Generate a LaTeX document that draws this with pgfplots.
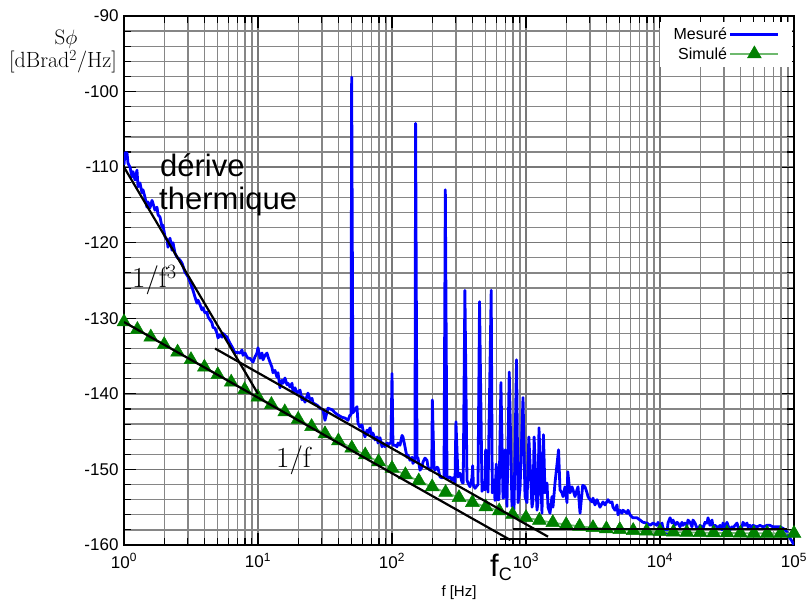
\documentclass[border=0pt]{standalone}
\usepackage{fontspec}
\usepackage{pgfplots}
\pgfplotsset{compat=1.18}
\newfontfamily\arial{Liberation Sans}
\definecolor{simline}{RGB}{110,185,110}
\definecolor{simmark}{RGB}{0,128,0}
\definecolor{gridc}{RGB}{120,120,120}
\newcommand{\legfont}{\arial\fontsize{16}{18}\selectfont}

\begin{document}
\begin{tikzpicture}[x=1pt,y=1pt]
\useasboundingbox (-124,-64) rectangle (685,545);
\begin{axis}[
  at={(0,0)}, anchor=south west,
  width=670pt, height=529pt, scale only axis,
  xmode=log, xmin=1, xmax=1e5,
  ymin=-160, ymax=-90,
  xtick={1,10,100,1000,10000,100000},
  xticklabels={10\textsuperscript{0},10\textsuperscript{1},10\textsuperscript{2},10\textsuperscript{3},10\textsuperscript{4},10\textsuperscript{5}},
  ytick={-160,-150,-140,-130,-120,-110,-100,-90},
  yticklabels={-160,-150,-140,-130,-120,-110,-100,-90},
  minor y tick num=4,
  tick align=inside,
  major tick length=12pt, minor tick length=7pt,
  tick style={black, line width=1.1pt},
  grid=both,
  major grid style={gridc, line width=1.3pt},
  minor grid style={gridc!90, line width=1.3pt},
  axis line style={black, line width=1.6pt},
  ticklabel style={font=\arial\fontsize{17}{17}\selectfont},
  xticklabel style={yshift=-5pt},
  yticklabel style={xshift=-2pt},
  xlabel={f [Hz]},
  xlabel style={font=\arial\fontsize{15}{15}\selectfont, yshift=-10pt},
  clip mode=individual,
  legend style={draw=none, fill=white, at={(0.997,0.989)}, anchor=north east,
    font=\legfont, row sep=2pt, inner xsep=12pt, inner ysep=4pt},
  legend cell align=right, legend plot pos=right,
  legend image code/.code={\draw[mark repeat=2,mark phase=2,#1] plot coordinates {(0pt,0pt) (24pt,0pt) (48pt,0pt)};},
]
\addplot[blue, line width=2.8pt, line join=round, no markers] coordinates {
(1,-109.7) (1.017,-108.1) (1.053,-108.1) (1.071,-109.5) (1.109,-110.0) (1.147,-111.3) (1.167,-110.6) (1.208,-111.7) (1.25,-110.4) (1.272,-112.6) (1.316,-112.1) (1.362,-113.4) (1.386,-113.0) (1.435,-114.0) (1.484,-115.3) (1.51,-114.6) (1.563,-115.4) (1.618,-114.4) (1.646,-114.8) (1.703,-115.7) (1.763,-115.3) (1.794,-116.3) (1.856,-116.6) (1.921,-117.9) (1.954,-117.7) (2.023,-119.2) (2.094,-119.6) (2.13,-120.6) (2.204,-119.4) (2.282,-121.0) (2.321,-120.0) (2.402,-121.4) (2.486,-121.9) (2.618,-122.3) (2.709,-122.7) (2.853,-123.9) (3.004,-124.5) (3.109,-125.2) (3.217,-125.9) (3.273,-126.3) (3.388,-127.2) (3.506,-128.0) (3.567,-127.6) (3.691,-128.2) (3.82,-128.9) (3.886,-128.6) (4.022,-129.3) (4.162,-129.2) (4.235,-129.8) (4.383,-130.2) (4.536,-130.6) (4.615,-131.2) (4.776,-131.3) (4.943,-132.0) (5.029,-132.6) (5.204,-132.2) (5.386,-132.5) (5.48,-132.0) (5.871,-132.5) (6.181,-133.3) (6.508,-134.0) (6.736,-134.6) (6.971,-134.5) (7.34,-134.6) (7.596,-134.2) (7.728,-134.9) (7.998,-134.6) (8.278,-135.1) (8.421,-135.3) (8.716,-135.3) (9.177,-135.8) (9.497,-135.1) (9.83,-134.6) (10,-133.9) (10.35,-135.3) (10.71,-134.6) (10.9,-135.5) (11.28,-134.9) (11.67,-134.6) (11.88,-135.1) (12.29,-135.8) (12.72,-136.5) (12.94,-137.2) (13.39,-136.9) (13.86,-137.8) (14.1,-137.2) (14.59,-139.2) (15.1,-138.2) (15.37,-138.6) (15.9,-137.9) (16.46,-138.8) (16.75,-138.6) (17.33,-139.1) (17.94,-138.6) (18.25,-139.8) (18.89,-139.2) (19.54,-139.9) (20.58,-139.5) (21.3,-140.8) (21.67,-140.4) (22.43,-141.1) (23.61,-139.9) (24.44,-140.8) (25.29,-140.6) (25.73,-141.2) (27.56,-141.5) (29.02,-141.9) (30.55,-142.1) (31.62,-143.5) (32.73,-142.4) (33.3,-141.9) (35.67,-142.1) (37.56,-142.5) (39.55,-142.8) (42.36,-143.1) (44.59,-143.2) (46.95,-143.5) (48.59,-142.8) (49.43,-142.8) (50,-98.1) (51.15,-142.5) (52.94,-142.1) (54.8,-141.7) (55.75,-143.9) (57.7,-144.4) (59.72,-144.1) (60.76,-144.8) (62.88,-145.7) (65.08,-144.8) (66.21,-145.2) (68.53,-144.5) (70.93,-145.7) (72.15,-145.2) (74.67,-146.1) (77.29,-145.7) (78.63,-146.5) (81.38,-145.8) (84.23,-147.0) (85.69,-146.5) (88.69,-147.0) (91.77,-146.5) (93.38,-146.8) (96.62,-146.5) (98.3,-146.5) (100,-137.3) (101.7,-146.8) (105.3,-146.8) (109,-147.0) (110.9,-146.5) (114.7,-146.8) (118.8,-145.5) (120.8,-145.7) (125,-147.0) (129.4,-148.4) (131.6,-148.1) (136.2,-148.8) (141,-148.4) (143.4,-149.2) (148.4,-148.8) (150,-104.2) (153.7,-148.4) (156.3,-148.5) (161.8,-150.1) (167.4,-149.7) (170.4,-149.0) (176.3,-148.5) (182.5,-148.8) (185.7,-149.7) (192.1,-150.1) (198,-149.7) (200,-140.8) (205.8,-149.7) (209.4,-150.1) (216.7,-149.7) (220.4,-149.8) (228.2,-151.0) (236.1,-151.1) (244.4,-151.0) (250,-113.0) (257.3,-151.0) (261.8,-151.1) (271,-151.0) (280.4,-151.4) (285.3,-151.1) (295.3,-151.7) (300,-143.7) (310.9,-151.0) (321.8,-150.5) (333,-151.7) (340,-151.8) (350,-126.3) (362.8,-151.4) (369.1,-151.8) (382.1,-152.3) (395.4,-151.1) (400,-149.5) (405,-152.1) (416.4,-152.5) (438.3,-152.0) (450,-127.8) (469.6,-152.9) (477.6,-152.3) (494.4,-152.7) (500,-147.4) (520.4,-153.0) (550,-126.3) (560,-153.1) (577,-151.4) (587,-154.1) (600,-149.3) (612,-154.0) (629,-154.0) (650,-138.5) (673.6,-153.8) (690,-153.6) (700,-147.4) (721,-154.9) (750,-137.1) (786,-154.9) (800,-151.0) (814,-155.3) (850,-135.5) (872,-154.4) (902,-152.7) (950,-140.5) (983,-153.6) (1017,-154.4) (1050,-145.7) (1109,-155.0) (1128,-154.1) (1150,-145.7) (1208,-155.4) (1229,-154.4) (1250,-144.5) (1316,-155.8) (1350,-145.4) (1386,-153.1) (1435,-151.8) (1460,-155.0) (1510,-155.8) (1563,-153.6) (1590,-155.0) (1646,-151.8) (1750,-147.4) (1794,-152.7) (1856,-153.1) (1889,-153.6) (1954,-152.3) (2023,-154.4) (2050,-150.3) (2130,-153.1) (2204,-152.3) (2243,-152.7) (2321,-153.6) (2402,-152.7) (2445,-152.3) (2530,-155.8) (2618,-153.1) (2650,-152.1) (2756,-152.3) (2853,-153.1) (2903,-153.6) (3004,-154.0) (3109,-154.3) (3162,-153.8) (3273,-154.7) (3388,-154.0) (3567,-155.0) (3755,-154.3) (3886,-154.7) (4092,-154.0) (4235,-154.4) (4383,-154.3) (4459,-155.0) (4615,-155.4) (4776,-154.7) (4859,-156.0) (5029,-155.4) (5204,-155.8) (5295,-155.4) (5673,-155.8) (5772,-155.4) (5973,-156.0) (6181,-156.3) (6288,-156.4) (6736,-156.4) (7092,-156.7) (7468,-157.0) (7998,-157.1) (8421,-157.4) (8867,-157.1) (9497,-157.4) (9662,-157.0) (10000,-157.6) (10350,-157.1) (10530,-157.8) (10900,-158.0) (11280,-158.4) (11470,-157.1) (11880,-156.4) (12290,-157.1) (12510,-156.7) (12940,-157.4) (13390,-157.0) (13620,-157.1) (14100,-157.6) (14590,-157.0) (14840,-157.4) (15370,-157.1) (15900,-157.4) (16180,-156.7) (16750,-157.0) (17330,-157.6) (17630,-156.7) (18250,-157.1) (18890,-157.8) (19210,-158.0) (19890,-157.4) (20580,-157.6) (20940,-157.8) (21670,-157.0) (22430,-157.1) (22820,-156.4) (23610,-157.4) (24440,-156.7) (24870,-157.6) (25730,-157.4) (26630,-157.6) (27090,-157.8) (28040,-157.4) (29020,-158.0) (29520,-157.1) (30550,-157.6) (31620,-157.0) (32170,-157.4) (33300,-158.0) (34460,-157.6) (35060,-157.8) (36280,-157.4) (37560,-157.1) (38210,-157.6) (39550,-157.8) (40920,-157.6) (41640,-157.0) (43090,-157.4) (44590,-157.1) (45370,-157.6) (46950,-157.4) (48590,-157.8) (49430,-157.4) (52940,-157.6) (55750,-157.4) (58710,-157.6) (62880,-157.4) (66210,-157.4) (69710,-157.6) (74670,-157.6) (78630,-157.6) (82780,-157.8) (85690,-158.0) (88690,-158.3) (90210,-158.7) (93370,-159.1) (96620,-159.5) (100000,-160.0)
};
\addlegendentry{\legfont Mesuré}
\addplot[simline, line width=1.8pt, mark=triangle*, mark size=8pt, mark options={draw=simmark, fill=simmark, line width=0.5pt}] coordinates {
(1,-130.49) (1.259,-131.49) (1.585,-132.49) (1.995,-133.49) (2.512,-134.48) (3.162,-135.48) (3.981,-136.47) (5.012,-137.47) (6.31,-138.46) (7.943,-139.45) (10,-140.43) (12.59,-141.41) (15.85,-142.39) (19.95,-143.37) (25.12,-144.33) (31.62,-145.29) (39.81,-146.23) (50.12,-147.17) (63.1,-148.09) (79.43,-148.99) (100,-149.86) (125.9,-150.71) (158.5,-151.53) (199.5,-152.31) (251.2,-153.05) (316.2,-153.74) (398.1,-154.38) (501.2,-154.96) (631,-155.49) (794.3,-155.96) (1000,-156.38) (1259,-156.74) (1585,-157.05) (1995,-157.31) (2512,-157.53) (3162,-157.71) (3981,-157.86) (5012,-157.98) (6310,-158.09) (7943,-158.17) (10000,-158.23) (12590,-158.29) (15850,-158.33) (19950,-158.36) (25120,-158.39) (31620,-158.41) (39810,-158.43) (50120,-158.45) (63100,-158.46) (79430,-158.47) (100000,-158.47)
};
\addlegendentry{\legfont Simulé}
\addplot[black, line width=2.2pt, forget plot] coordinates {(1,-110) (10,-140)};
\addplot[black, line width=2.2pt, forget plot] coordinates {(4.78,-134) (1460,-158.9)};
\addplot[black, line width=2.2pt, forget plot] coordinates {(1,-130.5) (766,-159.35)};
\addplot[black, line width=2.2pt, forget plot] coordinates {(800,-157.9) (88700,-157.9)};
\addplot[black, line width=2.2pt, forget plot] coordinates {(640,-159.2) (88700,-159.2)};
\end{axis}
% y label
\node[anchor=base, font=\fontsize{21}{21}\selectfont, inner sep=0] at (-58,500) {S$\phi$};
\node[anchor=base, font=\fontsize{22}{22}\selectfont, inner sep=0] at (-61,477) {[dBrad\textsuperscript{2}/Hz]};
% annotations
\node[anchor=base west, font=\arial\fontsize{31}{31}\selectfont, inner sep=0] at (36,368) {dérive};
\node[anchor=base west, font=\arial\fontsize{31}{31}\selectfont, inner sep=0] at (35,335) {thermique};
\node[anchor=base west, font=\fontsize{29}{29}\selectfont, inner sep=0] at (8,257) {1/f\textsuperscript{3}};
\node[anchor=base west, font=\fontsize{29}{29}\selectfont, inner sep=0] at (152,77) {1/f};
\node[anchor=base west, font=\arial\fontsize{31}{31}\selectfont, inner sep=0] at (366,-32) {f\raisebox{-4pt}{\fontsize{18}{18}\selectfont C}};
\end{tikzpicture}
\end{document}
